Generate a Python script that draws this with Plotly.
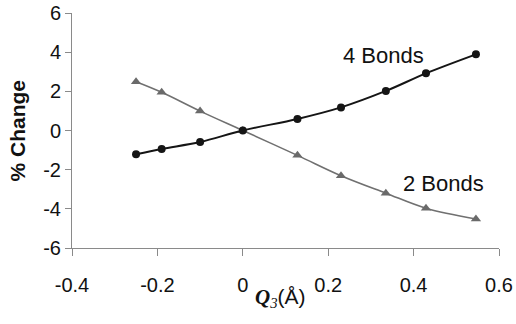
import plotly.graph_objects as go

q3 = [-0.25, -0.19, -0.10, 0.0, 0.128, 0.23, 0.335, 0.429, 0.546]
four_bonds = [-1.21, -0.94, -0.59, 0.0, 0.59, 1.18, 2.02, 2.92, 3.89]
two_bonds = [2.49, 1.95, 0.99, 0.0, -1.27, -2.31, -3.20, -3.97, -4.52]
x_ticks = [-0.4, -0.2, 0, 0.2, 0.4, 0.6]
x_tick_text = ["-0.4", "-0.2", "0", "0.2", "0.4", "0.6"]
y_ticks = [-6, -4, -2, 0, 2, 4, 6]
y_tick_text = ["-6", "-4", "-2", "0", "2", "4", "6"]

FONT = "Liberation Sans, Arial, sans-serif"

fig = go.Figure()
fig.add_trace(go.Scatter(
    x=q3, y=two_bonds, mode="lines+markers", name="2 Bonds",
    line=dict(color="#707070", width=1.6, shape="spline"),
    marker=dict(symbol="triangle-up", size=9, color="#6a6a6a"),
))
fig.add_trace(go.Scatter(
    x=q3, y=four_bonds, mode="lines+markers", name="4 Bonds",
    line=dict(color="#151515", width=2, shape="spline"),
    marker=dict(symbol="circle", size=8, color="#151515"),
))

fig.add_annotation(x=0.33, y=3.85, text="4 Bonds", showarrow=False,
                   font=dict(family=FONT, size=22, color="#111"))
fig.add_annotation(x=0.469, y=-2.73, text="2 Bonds", showarrow=False,
                   font=dict(family=FONT, size=22, color="#111"))

fig.add_annotation(xref="paper", yref="y", x=0, y=0, xshift=-55,
                   xanchor="center", yanchor="middle",
                   text="<b>% Change</b>", textangle=-90, showarrow=False,
                   font=dict(family=FONT, size=21, color="#111"))
fig.add_annotation(xref="x", yref="paper", x=0.089, y=0, yshift=-50,
                   xanchor="center", yanchor="middle",
                   text='<span style="font-family:Liberation Serif, Times New Roman, serif"><b><i>Q</i></b><sub><i>3</i></sub></span>(Å)',
                   showarrow=False,
                   font=dict(family=FONT, size=21, color="#111"))

axis_common = dict(showgrid=False, zeroline=False, showline=True, automargin=False,
                   ticklabeloverflow="allow",
                   linecolor="#8a8a8a", linewidth=1, ticks="outside",
                   tickcolor="#8a8a8a", tickfont=dict(family=FONT, size=20, color="#111"))

fig.update_xaxes(range=[-0.4, 0.6], tickvals=x_ticks, ticktext=x_tick_text,
                 ticklen=7, ticklabelstandoff=12, **axis_common)
fig.update_yaxes(range=[-6, 6], tickvals=y_ticks, ticktext=y_tick_text,
                 ticklen=6, ticksuffix="\u2002", **axis_common)

fig.update_layout(
    width=516, height=324,
    margin=dict(l=72, r=17, t=13, b=76),
    paper_bgcolor="white", plot_bgcolor="white",
    showlegend=False,
)

fig.write_html("out.html", config={"displayModeBar": False},
               post_script="document.body.style.margin='0px';")
